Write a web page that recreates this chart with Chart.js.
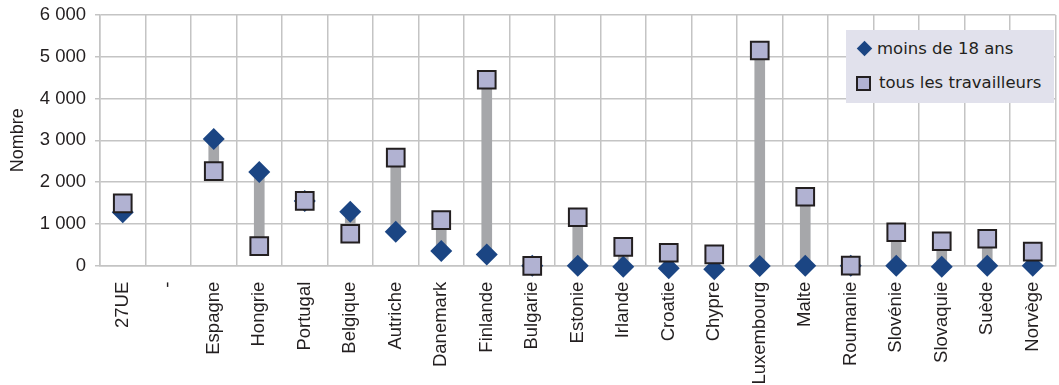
<!DOCTYPE html>
<html>
<head>
<meta charset="utf-8">
<script src="https://cdn.jsdelivr.net/npm/chart.js@4.4.1/dist/chart.umd.min.js"></script>
<style>
  html, body { margin: 0; padding: 0; background: #ffffff; overflow: hidden; }
  #wrap { position: relative; width: 1070px; height: 385px; }
  #legend {
    position: absolute; left: 846px; top: 30px; width: 208px; height: 73px;
    background: #e1e1ec; font-family: 'DejaVu Sans', sans-serif; font-size: 16.5px; color: #231f20;
  }
  .item { position: absolute; left: 0; white-space: nowrap; line-height: 20px; }
  .diamond { position: absolute; width: 11px; height: 11px; background: #1b4583; transform: rotate(45deg); }
  .square { position: absolute; width: 11px; height: 11px; background: #b1b2d2; border: 2px solid #231f20; }
</style>
</head>
<body>
<div id="wrap">
  <canvas id="c" width="1070" height="385"></canvas>
  <div id="legend">
    <div class="diamond" style="left:13px; top:13px;"></div>
    <div class="item" style="left:31px; top:9px;">moins de 18 ans</div>
    <div class="square" style="left:10px; top:46px;"></div>
    <div class="item" style="left:33px; top:43px;">tous les travailleurs</div>
  </div>
</div>
<script>
const categories = ['27UE', '-', 'Espagne', 'Hongrie', 'Portugal', 'Belgique', 'Autriche', 'Danemark', 'Finlande', 'Bulgarie', 'Estonie', 'Irlande', 'Croatie', 'Chypre', 'Luxembourg', 'Malte', 'Roumanie', 'Slovénie', 'Slovaquie', 'Suède', 'Norvège'];
const moinsDe18Ans = [1280, null, 3030, 2240, 1550, 1290, 810, 350, 270, 0, 0, -25, -60, -85, -10, 0, 0, 0, -25, 0, 0];
const tousLesTravailleurs = [1490, null, 2265, 470, 1550, 765, 2585, 1090, 4450, -5, 1160, 450, 310, 270, 5150, 1650, 0, 800, 585, 645, 335];
const yTickValues = [0, 1000, 2000, 3000, 4000, 5000, 6000];
const yTickLabels = ['0', '1 000', '2 000', '3 000', '4 000', '5 000', '6 000'];
const yTitle = 'Nombre';
const seriesNames = ['moins de 18 ans', 'tous les travailleurs'];

const ranges = categories.map((c, i) => {
  const a = moinsDe18Ans[i], b = tousLesTravailleurs[i];
  if (a === null || b === null) return null;
  return [Math.min(a, b), Math.max(a, b)];
});

Chart.defaults.font.family = "'Liberation Sans', Arial, sans-serif";
Chart.defaults.font.size = 18;
Chart.defaults.color = '#231f20';

new Chart(document.getElementById('c'), {
  type: 'bar',
  data: {
    labels: categories,
    datasets: [
      {
        type: 'line', label: seriesNames[1], data: tousLesTravailleurs, showLine: false, clip: false,
        pointStyle: 'rect', pointRadius: 12.5, pointBackgroundColor: '#b1b2d2',
        pointBorderColor: '#231f20', pointBorderWidth: 2, order: 0
      },
      {
        type: 'line', label: seriesNames[0], data: moinsDe18Ans, showLine: false, clip: false,
        pointStyle: 'rectRot', pointRadius: 11, pointBackgroundColor: '#1b4583',
        pointBorderColor: '#1b4583', pointBorderWidth: 0, order: 1
      },
      {
        type: 'bar', label: 'écart', data: ranges, backgroundColor: '#a6a7aa',
        barThickness: 10, borderWidth: 0, grouped: false, order: 2, clip: false
      }
    ]
  },
  options: {
    responsive: false,
    devicePixelRatio: 1,
    animation: false,
    layout: { padding: { top: 15, right: 5.7, left: 0, bottom: 0 } },
    plugins: { legend: { display: false }, tooltip: { enabled: false } },
    scales: {
      x: {
        offset: true,
        grid: { offset: true, color: '#c4c4c4', lineWidth: 1.5, drawTicks: false },
        border: { color: '#c4c4c4', width: 1.5 },
        ticks: { minRotation: 90, maxRotation: 90, padding: 16, autoSkip: false, color: '#231f20', font: { size: 18.5 } },
        afterFit: (s) => { s.height = 119.3; s.paddingLeft = 0; s.paddingRight = 0; }
      },
      y: {
        min: 0, max: 6000,
        afterBuildTicks: (s) => { s.ticks = yTickValues.map(v => ({ value: v })); },
        grid: { color: '#c4c4c4', lineWidth: 1.5, tickLength: 5 },
        border: { color: '#c4c4c4', width: 1.5 },
        ticks: {
          padding: 9, color: '#231f20', font: { size: 18.5 },
          callback: (v) => yTickLabels[yTickValues.indexOf(v)]
        },
        title: { display: true, text: yTitle, color: '#231f20', font: { size: 18 }, padding: { top: 7, bottom: 0 } },
        afterFit: (s) => { s.width = 100; s.paddingTop = 0; s.paddingBottom = 0; }
      }
    }
  }
});
</script>
</body>
</html>
